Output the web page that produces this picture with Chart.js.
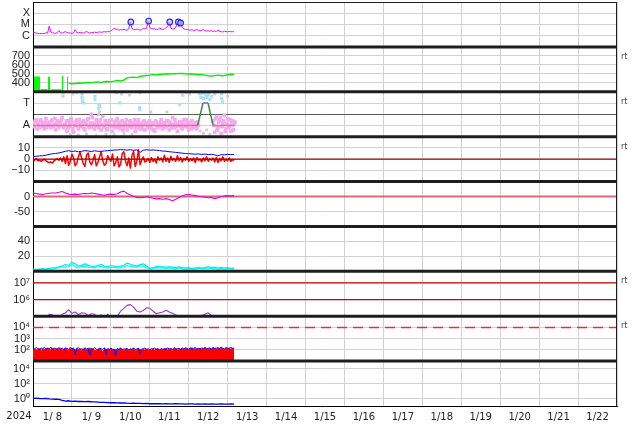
<!DOCTYPE html>
<html><head><meta charset="utf-8">
<script src="https://cdn.jsdelivr.net/npm/chart.js@4.4.1/dist/chart.umd.min.js"></script>
<style>html,body{margin:0;padding:0;background:#fff;}canvas{display:block}</style>
</head><body>
<canvas id="c" width="634" height="424"></canvas>
<script>
// ---- time axis: hours since 2024-01-08 00:00 ----
const dayTickHours = [12,36,60,84,108,132,156,180,204,228,252,276,300,324,348];
const dayLabels = ['1/ 8','1/ 9','1/10','1/11','1/12','1/13','1/14','1/15','1/16','1/17','1/18','1/19','1/20','1/21','1/22'];
const yearLabel = '2024';
const spanH = [0, 360];

// ---- panel 1: X-ray flux (units 1e-6 W/m2), hourly from 0h ----
const xrayStart = 0, xrayStep = 1;
const xray = [
 2.2,1.9,1.7,1.6,1.5,1.6,1.5,1.6,1.8,1.7,
 7.0,2.1,1.8,1.7,1.6,1.9,2.8,1.8,1.7,2.0,
 2.3,1.9,1.8,1.7,1.6,1.8,3.4,1.9,1.8,2.0,
 1.9,1.7,1.8,2.6,1.8,1.7,1.9,1.8,2.1,1.9,
 2.0,2.2,2.0,2.1,2.3,2.1,2.4,2.2,2.7,3.3,
 4.6,3.6,3.9,3.1,3.5,3.2,3.7,3.3,3.1,4.1,
 16.5,4.6,3.6,3.3,3.9,3.5,3.1,3.7,4.3,4.0,
 4.6,20,5.1,4.3,3.9,4.1,3.7,3.5,4.9,4.0,
 3.6,3.8,5.3,6.2,16.5,4.6,4.0,4.1,5.6,16.5,
 6.5,13.5,5.1,4.1,3.5,3.7,3.3,3.1,3.4,2.9,
 3.1,3.5,3.0,2.7,2.9,3.7,2.8,2.6,2.7,2.5,
 2.8,2.4,2.6,2.3,3.1,2.5,2.3,2.1,2.5,2.3,
 2.2,2.4,2.2,2.3,2.2];
const flareHours = [60.3, 71.3, 84.3, 89.6, 91];
const flarePeaks = [16.5, 20, 16.5, 16.5, 13.5];

// ---- panel 2: solar wind speed (km/s) ----
const speedStart = 22, speedStep = 2;
const speed = [395,390,392,398,395,400,405,402,408,410,
 405,412,415,410,418,425,420,430,455,460,
 462,458,470,478,482,485,490,488,492,495,
 500,498,502,500,505,503,500,498,500,495,
 492,490,485,478,475,480,485,478,482,490,
 495,492];
const speedBlockStart = [0.6, 4.6, 9.2, 11.0, 17.8, 20.9];
const speedBlockEnd   = [4.4, 9.0, 10.6, 17.5, 18.7, 21.7];
const speedBlockTop   = [465, 325, 462, 322, 470, 462];

// ---- panel 3: activity level (A=1, T=3) ----
const levelHours = [0, 101.5, 104.8, 107.9, 111, 124.3];
const levelVals  = [1, 1, 3, 3, 1, 1];
const pinkStart = 0, pinkBStart = 0.5, pinkStep = 1;
const pink = [
 1.3,0.9,1.5,1.1,0.8,1.4,1.2,0.7,1.6,1.0,
 1.3,0.8,1.5,1.1,0.6,1.4,0.9,1.2,1.7,0.8,
 1.1,0.5,1.4,0.9,1.3,0.4,1.0,1.5,0.7,1.2,
 0.9,1.4,0.6,1.1,1.6,0.8,2.0,1.2,0.7,1.5,
 1.0,1.3,0.6,1.8,0.9,1.2,0.7,1.4,1.0,0.5,
 1.3,0.8,1.6,1.1,0.7,1.4,0.9,1.2,0.6,1.0,
 1.4,0.8,1.2,0.5,1.1,1.5,0.7,1.0,1.3,0.6,
 1.2,0.9,1.4,0.7,1.1,0.5,1.3,0.8,1.0,1.5,
 0.7,1.2,0.9,1.4,0.6,1.1,1.7,0.8,1.2,0.5,
 1.0,1.3,0.7,1.5,0.9,1.2,0.6,1.1,1.4,0.8,
 1.2,0.7,1.0,null,null,null,null,null,null,null,
 null,1.4,0.4,1.8,0.9,1.5,0.3,1.2,1.9,0.7,
 1.6,1.0,0.5,1.4,1.1];
const pinkB = [
 1.1,1.4,0.7,1.2,1.5,0.9,1.0,1.3,0.8,1.2,
 1.0,1.4,0.9,1.6,1.2,0.8,1.3,1.5,0.9,1.1,
 1.4,0.8,1.2,1.6,0.7,1.1,1.3,0.9,1.5,1.0,
 1.2,0.7,1.3,1.5,0.9,1.2,1.7,0.8,1.1,1.3,
 0.8,1.5,1.1,0.9,1.4,0.6,1.2,1.0,1.5,0.9,
 1.1,1.4,0.8,1.3,1.0,0.6,1.2,1.5,0.9,1.3,
 0.9,1.1,1.5,0.8,1.3,1.0,1.2,0.7,1.4,1.1,
 0.8,1.3,1.0,1.2,0.6,1.4,0.9,1.1,1.3,0.8,
 1.2,0.9,1.4,1.0,1.3,0.8,1.1,1.5,0.9,1.0,
 1.3,0.8,1.2,1.0,1.5,0.9,1.3,0.7,1.0,1.2,
 0.9,1.3,null,null,null,null,null,null,null,null,
 null,1.0,1.6,0.6,1.3,1.7,0.9,1.4,0.5,1.2,
 0.8,1.5,1.2,0.6,1.3];
const cyanDotHours = [18.5,18.5,30.2,30.2,30.6,31.4,38.2,38.2,40.6,40.6,41.2,53.5,65.8,65.8,72.6,90.5,92.3,102.8,103.5,104.6,105.2,106.5,107.3,108.3,109,110.2,116.3,116.3,116.9];
const cyanDotVals  = [3.9,3.6,3.8,3.5,3.2,3.0,3.6,3.3,2.8,2.5,2.7,3.0,2.6,2.4,2.2,2.85,3.7,3.8,3.5,3.9,3.4,3.7,3.5,3.9,3.3,3.6,3.8,3.4,3.1];
const grayDotHours = [24.6,27,30.5,40.5,41,51.5,54.5,59.5,66,82.5,94.5,96.5,102,104,106,108,112,120,23,28,33,39,45,50,56,61,103,105,107,109];
const grayDotVals  = [3.8,3.9,3.1,1.95,2.2,3.9,3.8,3.7,3.9,2.2,3.9,3.8,3.95,3.85,3.9,3.7,3.8,3.6,0.2,0.15,0.25,0.1,0.2,0.15,0.3,0.2,0.5,0.3,0.6,0.2];

// ---- panel 4: IMF Bt (blue, 2-hourly) and Bz (red, hourly), nT ----
const btStart = 0, btStep = 2;
const bt = [2.2,2.5,2.8,3.0,3.5,4.2,4.8,5.0,5.5,6.2,
 7.0,7.5,6.8,7.2,6.5,7.0,7.6,7.2,6.8,7.4,
 7.0,6.9,7.3,7.5,7.8,8.0,8.2,8.5,8.3,8.0,
 8.4,7.8,8.2,6.0,8.0,8.3,8.0,8.2,7.9,7.6,
 7.2,7.0,6.6,6.3,6.0,5.6,5.3,5.0,4.8,4.6,
 4.4,4.6,4.2,4.5,4.0,4.3,3.8,2.9,4.0,3.8,
 4.2,4.0,4.1];
const bzStart = 0, bzStep = 1;
const bz = [
 -0.5,-1.0,0.5,-1.5,-1.0,-2.0,-1.0,0.0,-1.5,-2.5,
 -3.0,-2.5,-3.5,-1.5,-0.5,0.5,-1.0,1.0,-2.0,2.0,
 -4.0,3.0,-5.5,-2.0,4.5,1.0,-6.0,-3.5,2.0,6.0,
 1.0,-4.0,-6.5,3.5,5.5,-2.5,-5.0,-1.0,4.0,-6.0,
 -3.0,2.0,6.5,-1.5,-5.5,-4.0,3.0,0.5,-2.0,4.5,
 -6.0,-3.0,2.0,-7.0,-4.5,5.0,6.5,-2.0,-6.0,1.0,
 -8.0,3.0,7.0,-6.5,-2.0,8.5,-5.0,-1.0,2.0,-2.5,
 -1.5,0.5,-3.0,1.5,-2.0,0.0,-3.5,2.0,-1.0,1.0,
 -2.5,3.5,-2.0,1.0,-3.0,2.5,-1.0,0.5,-2.0,3.0,
 -1.5,1.5,-2.5,0.5,-1.0,2.0,-2.0,0.5,-1.5,1.0,
 -3.0,1.5,-1.0,0.0,-2.5,1.0,-1.5,2.0,-2.0,0.5,
 -1.0,1.0,-2.5,1.5,-3.0,0.5,-1.5,2.0,-2.0,0.0,
 -1.5,1.0,-2.0,-0.5,-1.0];
const bzZero = 0;

// ---- panel 5: Dst (nT), 2-hourly ----
const dstStart = 0, dstStep = 2;
const dst = [12,10,8,7,9,11,12,12,14,17,
 12,8,7,8,7,9,10,9,12,10,
 8,6,4,7,8,7,9,15,18,10,
 5,1,-3,-4,-3,-1,-3,-6,-8,-7,
 -9,-7,-10,-14,-9,-3,2,6,7,5,
 3,1,-1,-2,-4,-3,-7,-4,0,2,
 3,2,3];
const dstZero = 0;

// ---- panel 6: density (two traces), 2-hourly ----
const densStart = 0, densStep = 2;
const densA = [3,2.5,3,3.5,3,4,4.5,5,6,7.5,
 9,8,12,10,7,8,10,8,7,6.5,
 8,9,7,6,7.5,7,6,7,8,11,
 9.5,8,7,9,10,7,4.5,5,6.5,6,
 6,5.5,6,5.5,5,6,5,4.5,5,4,
 4.5,5.5,4.5,5,6,5,5.5,4.5,5,4.5,
 5,4,4.5];
const densB = [2,2,2.5,2,2.5,3,3,4,5,6,
 5.5,6,9,6,5,6.5,7,5.5,5,5,
 6,6.5,5,4.5,5,5.5,4.5,5,6,8,
 6.5,6,5.5,7,7,5,3,4,5,4.5,
 4.5,4,4.5,4,3.5,4.5,3.5,3,3.5,3,
 3,4,3.5,3.5,4.5,3.5,4,3,3.5,3,
 3.5,3,3];

// ---- panel 7: electron flux (units 1e5), 2-hourly ----
const elecStart = 0, elecStep = 2;
const elec = [0.5,0.6,0.5,0.7,0.8,1.3,1.2,0.8,0.9,1.3,
 1.6,2.5,1.5,1.8,1.2,1.6,1.5,1.1,1.4,1.3,
 0.9,1.2,0.8,1.3,0.9,0.8,1.0,2.0,3.0,4.5,
 5.0,3.5,2.0,1.8,2.2,3.2,3.0,2.0,1.4,1.6,
 1.8,2.3,1.8,1.5,1.2,0.8,0.6,0.7,0.8,0.7,
 0.9,0.8,1.1,1.3,1.6,1.1,0.8,0.7,0.8,0.8,
 1.1,0.9,0.8];
const elecLevels = [1e7, 1e6];

// ---- panel 8: proton flux, hourly ----
const protStart = 0, protStep = 1;
const protRed = [
 110,125,95,115,130,90,120,105,125,140,
 100,115,130,120,105,135,110,150,95,120,
 130,110,85,125,140,115,95,130,110,120,
 90,115,135,100,120,150,110,125,95,85,
 115,125,100,75,110,120,90,105,130,115,
 85,120,95,110,135,100,90,115,125,85,
 110,95,130,80,100,120,110,90,115,95,
 125,85,110,100,120,95,115,130,90,110,
 100,120,140,95,115,110,90,125,130,100,
 115,120,140,110,130,120,100,135,150,115,
 125,110,130,140,120,110,145,125,115,135,
 120,150,130,115,140,125,155,120,110,135,
 125,145,115,130,120];
const protBlue = [
 140,120,165,130,105,150,125,170,110,140,
 125,175,105,150,130,115,160,120,140,95,
 155,130,110,170,120,145,40,135,160,115,
 130,105,150,120,140,30,135,115,160,120,
 100,145,125,110,155,35,130,115,140,105,
 120,30,135,110,150,100,125,115,140,95,
 130,110,155,105,120,140,45,115,130,150,
 110,125,100,135,120,145,110,130,95,140,
 115,125,105,150,120,135,110,160,115,130,
 140,105,145,120,155,130,115,150,125,140,
 160,120,135,115,145,130,170,125,140,150,
 120,165,135,145,155,130,170,140,125,160,
 145,135,165,140,150];
const protLevel = 1e4;

// ---- panel 9: 2-hourly ----
const p9Start = 0, p9Step = 2;
const p9 = [1.0,1.1,1.0,0.95,1.0,0.9,0.85,0.8,0.75,0.55,
 0.45,0.5,0.42,0.45,0.4,0.42,0.38,0.4,0.37,0.35,
 0.33,0.3,0.31,0.28,0.27,0.28,0.26,0.25,0.26,0.24,
 0.23,0.24,0.22,0.23,0.21,0.22,0.2,0.21,0.2,0.2,
 0.19,0.2,0.19,0.19,0.2,0.19,0.19,0.18,0.19,0.19,
 0.18,0.19,0.18,0.19,0.18,0.19,0.18,0.18,0.19,0.18,
 0.18,0.19,0.18];

// ---- helpers ----
const seq = (vals, start, step, k = 1) => vals.map((v, i) => ({x: start + i * step, y: v === null ? null : v * k}));
const pairs = (ts, vs, k = 1) => ts.map((t, i) => ({x: t, y: vs[i] * k}));
const flat = v => spanH.map(h => ({x: h, y: v}));
const blocks = [];
speedBlockStart.forEach((s, i) => { blocks.push({x: s, y: speedBlockTop[i]}, {x: speedBlockEnd[i], y: speedBlockTop[i]}, {x: speedBlockEnd[i] + 0.05, y: null}); });

const L = (yAxisID, data, color, width, extra = {}) => Object.assign({type: 'line', yAxisID, xAxisID: 'x', data, borderColor: color, backgroundColor: color, borderWidth: width, borderJoinStyle: 'round', pointRadius: 0, tension: 0, fill: false}, extra);
const S = (yAxisID, data, color, r, extra = {}) => Object.assign({type: 'scatter', yAxisID, xAxisID: 'x', data, showLine: false, pointRadius: r, pointStyle: 'rect', borderWidth: 0, backgroundColor: color, borderColor: color}, extra);

const datasets = [
  S('y1', pairs(flareHours, flarePeaks, 1e-6), 'rgba(190,190,255,0.6)', 2.8, {pointStyle: 'circle', borderColor: '#2a2aff', borderWidth: 1.2}),
  L('y1', seq(xray, xrayStart, xrayStep, 1e-6), '#ff00ff', 1),
  L('y2', seq(speed, speedStart, speedStep), '#00f000', 1.4),
  L('y2', blocks, '#00ff00', 1, {fill: 'start', backgroundColor: '#00ff00'}),
  L('y3', pairs(levelHours, levelVals), '#f06a8a', 1.5, {segment: {borderColor: c => {
      const a = c.p0.parsed.y, b = c.p1.parsed.y;
      return (a === levelVals[0] && b === levelVals[0]) ? '#f06a8a' : (a === b ? '#6a6aff' : '#3c8c3c'); }}}),
  S('y3', seq(pink, pinkStart, pinkStep), '#f5aaf0', 2.6),
  S('y3', seq(pinkB, pinkBStart, pinkStep), '#f5aaf0', 2.6),
  S('y3', pairs(cyanDotHours, cyanDotVals), '#a6e2f6', 2.2),
  S('y3', pairs(grayDotHours, grayDotVals), '#cfcfcf', 2),
  L('y4', flat(bzZero), '#a00000', 1.2),
  L('y4', seq(bt, btStart, btStep), '#0000ff', 1),
  L('y4', seq(bz, bzStart, bzStep), '#ff0000', 1.5),
  L('y5', seq(dst, dstStart, dstStep), '#e000e0', 1.1),
  L('y5', flat(dstZero), '#d86a78', 2),
  L('y6', seq(densA, densStart, densStep), '#00ecec', 1.2),
  L('y6', seq(densB, densStart, densStep), '#00ffff', 1.2),
  L('y7', seq(elec, elecStart, elecStep, 1e5), '#9b33d3', 1.1),
  L('y7', flat(elecLevels[0]), '#cc0000', 1.2),
  L('y7', flat(elecLevels[1]), '#cc0000', 1.2),
  L('y8', flat(protLevel), '#e03333', 1.5, {borderDash: [10, 6]}),
  L('y8', seq(protBlue, protStart, protStep), '#0000ff', 1),
  L('y8', seq(protRed, protStart, protStep), '#ff0000', 1, {fill: 'start', backgroundColor: '#ff0000'}),
  L('y9', seq(p9, p9Start, p9Step), '#0000ff', 1.3),
];

const GRID = '#d2d2d2';
function noPad(s) { s.paddingTop = 0; s.paddingBottom = 0; s.paddingLeft = 0; s.paddingRight = 0; }
function yScale(weight, type, min, max, ticks, labels, gridColors) {
  return {
    type, min, max, position: 'left', stack: 'panels', stackWeight: 1, weight,
    afterFit: s => { s.width = 33; noPad(s); },
    afterBuildTicks: s => { s.ticks = ticks.map(v => ({value: v})); },
    ticks: {autoSkip: false, padding: 3, color: '#222', font: {size: 11, family: 'Liberation Sans'}, callback: (v, i) => labels[i]},
    grid: {drawTicks: false, color: c => (gridColors ? gridColors[c.index] : GRID), lineWidth: 1},
    border: {display: true, color: '#000', width: 1}
  };
}

const panelIds = ['y1','y2','y3','y4','y5','y6','y7','y8','y9'];
const rtPanels = ['y2','y3','y4','y7','y8'];

const decor = {
  id: 'decor',
  beforeDatasetDraw(chart, args) {
    const ys = chart.getDatasetMeta(args.index).yScale, a = chart.chartArea, ctx = chart.ctx;
    ctx.save(); ctx.beginPath(); ctx.rect(a.left, ys.top, a.right - a.left, ys.bottom - ys.top); ctx.clip();
  },
  afterDatasetDraw(chart) { chart.ctx.restore(); },
  afterDraw(chart) {
    const ctx = chart.ctx, a = chart.chartArea;
    ctx.save();
    ctx.strokeStyle = '#1e1e1e';
    ctx.lineWidth = 3;
    panelIds.slice(1).forEach(id => {
      const s = chart.scales[id];
      ctx.beginPath(); ctx.moveTo(a.left, s.top); ctx.lineTo(a.right, s.top); ctx.stroke();
    });
    ctx.lineWidth = 1;
    ctx.beginPath();
    ctx.moveTo(a.left, a.top + 0.5); ctx.lineTo(a.right, a.top + 0.5);
    ctx.moveTo(a.right - 0.5, a.top); ctx.lineTo(a.right - 0.5, a.bottom);
    ctx.stroke();
    ctx.fillStyle = '#444';
    ctx.font = '8px "DejaVu Sans"';
    ctx.textBaseline = 'middle'; ctx.textAlign = 'left';
    rtPanels.forEach(id => { const s = chart.scales[id]; ctx.fillText('rt', a.right + 4, s.top + 10); });
    ctx.fillStyle = '#222';
    ctx.font = '10px "DejaVu Sans"';
    ctx.textAlign = 'center';
    ctx.fillText(yearLabel, 19, 416);
    ctx.restore();
  }
};

new Chart(document.getElementById('c'), {
  data: {datasets},
  options: {
    responsive: false, animation: false, events: [],
    layout: {autoPadding: false, padding: {top: 2, right: 17, bottom: 0, left: 0}},
    plugins: {legend: {display: false}, tooltip: {enabled: false}},
    scales: {
      x: {
        type: 'linear', min: spanH[0], max: spanH[1], position: 'bottom',
        afterFit: s => { s.height = 18; noPad(s); },
        afterBuildTicks: s => { s.ticks = dayTickHours.map(v => ({value: v})); },
        ticks: {autoSkip: false, maxRotation: 0, padding: 5, color: '#222', font: {family: 'DejaVu Sans', size: 10}, callback: (v, i) => dayLabels[i]},
        grid: {offset: true, drawTicks: false, color: GRID},
        border: {color: '#000'}
      },
      y1: yScale(9, 'logarithmic', 1e-7, 1e-3, [1e-6, 1e-5, 1e-4], ['C', 'M', 'X']),
      y2: yScale(8, 'linear', 300, 800, [400, 500, 600, 700], ['400', '500', '600', '700']),
      y3: yScale(7, 'linear', 0, 4, [1, 2, 3], ['A', '', 'T'], [GRID, '#5a5a5a', GRID]),
      y4: yScale(6, 'linear', -20, 20, [-10, 0, 10], ['\u221210', '0', '10']),
      y5: yScale(5, 'linear', -100, 50, [-50, 0], ['-50', '0']),
      y6: yScale(4, 'linear', 0, 60, [20, 40], ['20', '40']),
      y7: yScale(3, 'logarithmic', 1e5, 5e7, [1e6, 1e7], ['10\u2076', '10\u2077']),
      y8: yScale(2, 'logarithmic', 1e1, 1e5, [1e2, 1e3, 1e4], ['10\u00b2', '10\u00b3', '10\u2074']),
      y9: yScale(1, 'logarithmic', 1e-1, 1e5, [1, 1e2, 1e4], ['10\u2070', '10\u00b2', '10\u2074'])
    }
  },
  plugins: [decor]
});
</script>
</body></html>
